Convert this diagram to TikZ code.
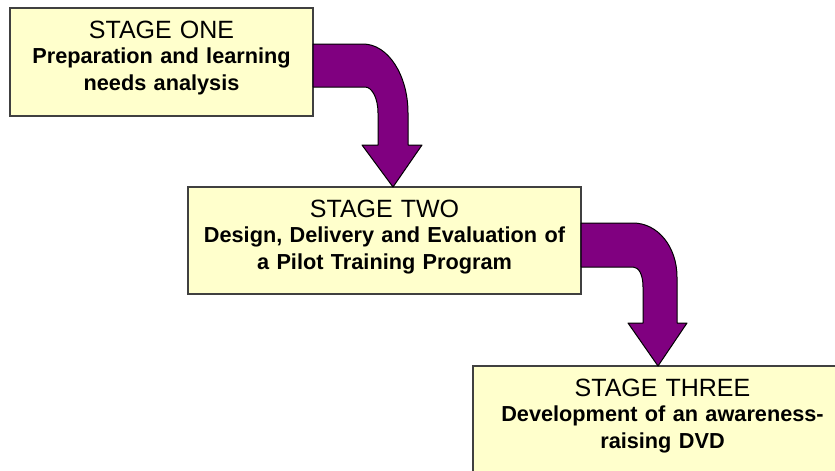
\documentclass[tikz,border=0pt]{standalone}
\usepackage{fontspec}
\setmainfont{Liberation Sans}
\definecolor{boxfill}{HTML}{FFFFCC}
\definecolor{arrowfill}{HTML}{800080}
\newcommand{\stagename}{\fontsize{25}{25.5}\selectfont\spaceskip=0.32em}
\newcommand{\stagetext}{\fontsize{21.7}{25.5}\selectfont\bfseries\spaceskip=0.34em}

\begin{document}
\begin{tikzpicture}[x=1pt,y=-1pt,
  stagebox/.style={draw=black!75,line width=1.2pt,fill=boxfill,anchor=north west,
    inner sep=0pt,outer sep=0pt,align=center,text height=30pt},
  bentarrow/.style={draw=black,line width=1pt,fill=arrowfill,line join=round}]

  \clip (0,0) rectangle (835,471);

  \node[stagebox,text width=303pt,text depth=78pt] (s1) at (10,8)
    {\stagename STAGE ONE\\ \stagetext Preparation and learning\\[6pt] needs analysis};
  \node[stagebox,text width=393pt,text depth=77pt] (s2) at (188,187)
    {\stagename STAGE TWO\\ \stagetext Design, Delivery and Evaluation of\\[6pt] a Pilot Training Program};
  \node[stagebox,text width=379pt,text depth=140pt] (s3) at (473,366)
    {\stagename STAGE THREE\\ \stagetext Development of an awareness-\\[6pt] raising DVD};

  % bent arrows between the stages
  \draw[bentarrow] ([yshift=-36pt]s1.north east) -- ++(50,0)
    .. controls +(25,0) and +(0,-38) .. ++(45,69) -- ++(0,32) -- ++(14,0)
    -- ([xshift=205pt]s2.north west) -- ++(-31,-42) -- ++(16,0) -- ++(0,-32)
    .. controls +(0,-15) and +(7,0) .. ++(-13,-26)
    -- ([yshift=-79pt]s1.north east) -- cycle;
  \draw[bentarrow] ([yshift=-36pt]s2.north east) -- ++(52,0)
    .. controls +(25,0) and +(0,-30) .. ++(44,54) -- ++(0,46) -- ++(10,0)
    -- ([xshift=185pt]s3.north west) -- ++(-30,-43) -- ++(15,0) -- ++(0,-36)
    .. controls +(0,-12) and +(6,0) .. ++(-10,-20)
    -- ([yshift=-80pt]s2.north east) -- cycle;
\end{tikzpicture}
\end{document}
